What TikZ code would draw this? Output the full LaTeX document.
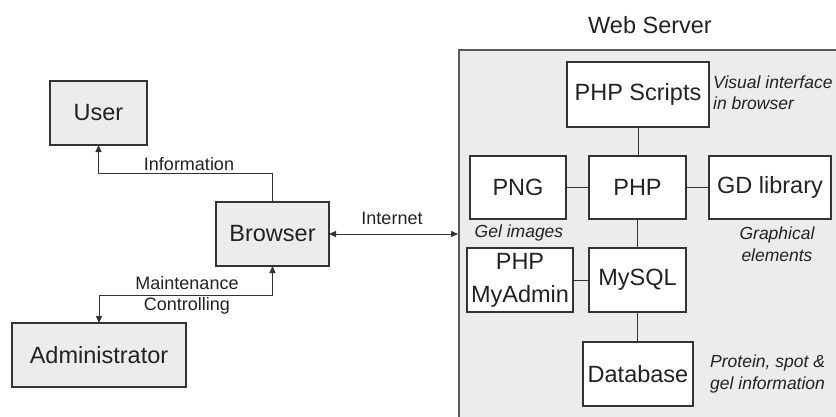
\documentclass[tikz,border=0pt]{standalone}
\usepackage{fontspec}
\setmainfont{Liberation Sans}
\usetikzlibrary{arrows.meta}
\definecolor{boxgray}{HTML}{ECECEC}
\definecolor{ink}{HTML}{222222}
\definecolor{edge}{HTML}{333333}
\begin{document}
\begin{tikzpicture}[x=1pt,y=-1pt,
  box/.style={draw=edge,line width=1.2pt,fill=boxgray,inner sep=0pt,outer sep=0pt,
     font=\fontsize{23.5}{25}\selectfont,text=ink,align=center},
  wbox/.style={box,fill=white},
  lbl/.style={font=\fontsize{18}{22}\selectfont,text=ink,inner sep=0pt,align=center},
  note/.style={font=\fontsize{17.5}{21.5}\selectfont\itshape,text=ink,inner sep=0pt},
  conn/.style={draw=edge,line width=1pt},
  tip/.style={-{Triangle[length=7pt,width=6pt]}},
  tips/.style={{Triangle[length=7pt,width=6pt]}-{Triangle[length=7pt,width=6pt]}}]
\useasboundingbox (0,0) rectangle (836,416);
\clip (0,0) rectangle (836,416);
% web server panel
\node[draw=black!65,line width=2pt,fill=boxgray,anchor=north west,minimum width=420pt,minimum height=420pt,inner sep=0pt] (ws) at (458,49) {};
\node[font=\fontsize{23.5}{25}\selectfont,text=ink] (wstitle) at (650,25) {Web Server};
% left side
\node[box,minimum width=97pt,minimum height=64pt] (user) at (98.5,113) {User};
\node[box,minimum width=113pt,minimum height=64pt] (browser) at (272.5,234) {Browser};
\node[box,minimum width=174pt,minimum height=64pt] (admin) at (99,355) {Administrator};
\coordinate (infoy) at (0,173);
\coordinate (mainty) at (0,295);
\draw[conn,tip] (browser.north) |- (user.south |- infoy) -- (user.south);
\draw[conn,tips] (browser.south) |- (admin.north |- mainty) -- (admin.north);
\draw[conn,tips] (browser.east) -- (ws.west |- browser.east);
\node[lbl] (linfo) at (189,164) {Information};
\node[lbl] (lnet) at (392,218) {Internet};
\node[lbl] (lmaint) at (187,283) {Maintenance};
\node[lbl] (lctrl) at (187,306) {Controlling};
% server boxes
\node[wbox,minimum width=142pt,minimum height=65pt] (scripts) at (638,94.5) {PHP Scripts};
\node[wbox,minimum width=96pt,minimum height=63pt] (png) at (518,187.5) {PNG};
\node[wbox,minimum width=97pt,minimum height=63pt] (php) at (637.5,187.5) {PHP};
\node[wbox,minimum width=122pt,minimum height=63pt] (gd) at (770,187.5) {GD library};
\node[wbox,minimum width=106pt,minimum height=64pt,font=\fontsize{23.5}{33}\selectfont] (myadmin) at (520,280) {PHP\\MyAdmin};
\node[wbox,minimum width=97pt,minimum height=64pt] (mysql) at (637.5,280) {MySQL};
\node[wbox,minimum width=110pt,minimum height=64pt] (db) at (638,374) {Database};
\draw[conn] (scripts.south) -- (scripts.south |- php.north);
\draw[conn] (png.east) -- (php.west);
\draw[conn] (php.east) -- (gd.west);
\draw[conn] (php.south) -- (mysql.north);
\draw[conn] (myadmin.east) -- (myadmin.east -| mysql.west);
\draw[conn] (mysql.south) -- (mysql.south |- db.north);
% notes
\node[note,anchor=west,align=left] (nvis) at (713,92.5) {Visual interface\\in browser};
\node[note,align=center] (ngel) at (519,233) {Gel images};
\node[note,align=center] (ngraph) at (777,244) {Graphical\\elements};
\node[note,anchor=west,align=left] (nprot) at (710,374) {Protein, spot \&\\gel information};
\end{tikzpicture}
\end{document}
